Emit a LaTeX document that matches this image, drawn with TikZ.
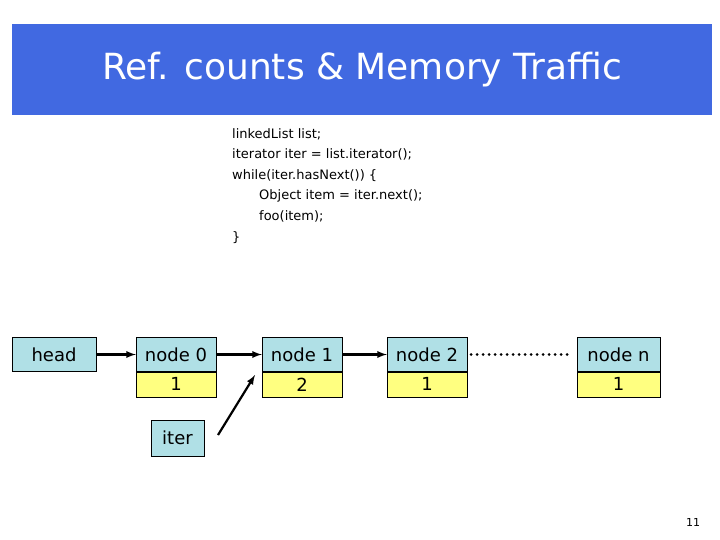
\documentclass[tikz,border=0pt]{standalone}
\usepackage{fontspec}
\setmainfont{DejaVu Sans}
\usetikzlibrary{positioning}
\definecolor{titleblue}{RGB}{65,105,225}
\definecolor{boxcyan}{RGB}{176,224,230}
\definecolor{boxyellow}{RGB}{255,255,128}
\tikzset{
  name box/.style={draw, fill=boxcyan, minimum height=34pt, inner sep=2pt, font=\fontsize{18pt}{20pt}\selectfont},
  count box/.style={draw, fill=boxyellow, minimum height=25pt, inner sep=0pt, font=\fontsize{18pt}{20pt}\selectfont},
  link/.style={line width=2.2pt, -latex}
}
\begin{document}
\begin{tikzpicture}[x=1pt,y=-1pt]
	\useasboundingbox (0,0) rectangle (720,540);
	\fill [titleblue] (12,24) rectangle (712,115);
	\node[white, font=\fontsize{36pt}{40pt}\selectfont] (title) at (362,70) {Ref. counts \& Memory Traffic};
	\node[anchor=north west, align=left, font=\fontsize{13pt}{20.6pt}\selectfont, inner sep=0pt] (code) at (232,128)
		{linkedList list;\\ iterator iter = list.iterator();\\ while(iter.hasNext()) \{\\ \hspace*{27pt}Object item = iter.next();\\ \hspace*{27pt}foo(item);\\ \}};
%
	\node[name box, minimum width=84pt] (head) at (54,354.5) {head};
	\node[name box, minimum width=80pt] (node0) at (176,354.5) {node 0};
	\node[count box, minimum width=80pt, below=0pt of node0] (cnt0) {1};
	\node[name box, minimum width=80pt] (node1) at (302,354.5) {node 1};
	\node[count box, minimum width=80pt, below=0pt of node1] (cnt1) {2};
	\node[name box, minimum width=80pt] (node2) at (427,354.5) {node 2};
	\node[count box, minimum width=80pt, below=0pt of node2] (cnt2) {1};
	\node[name box, minimum width=83pt] (noden) at (618.5,354.5) {node n};
	\node[count box, minimum width=83pt, below=0pt of noden] (cntn) {1};
	\node[name box, minimum width=53pt, minimum height=36pt] (iter) at (177.5,438) {iter};
	\coordinate (iterfrom) at (218,435);
	\coordinate (iterto) at (255,375);
%
	\draw [link] (head) -- (node0);
	\draw [link] (node0) -- (node1);
	\draw [link] (node1) -- (node2);
	\draw [line width=3pt, dash pattern=on 0pt off 6pt, line cap=round] (node2.east) ++(4,0) -- ([xshift=-4pt]noden.west);
	\draw [link] (iterfrom) -- (iterto);
	\node[font=\fontsize{11pt}{13pt}\selectfont] (page) at (693,522) {11};
\end{tikzpicture}
\end{document}
